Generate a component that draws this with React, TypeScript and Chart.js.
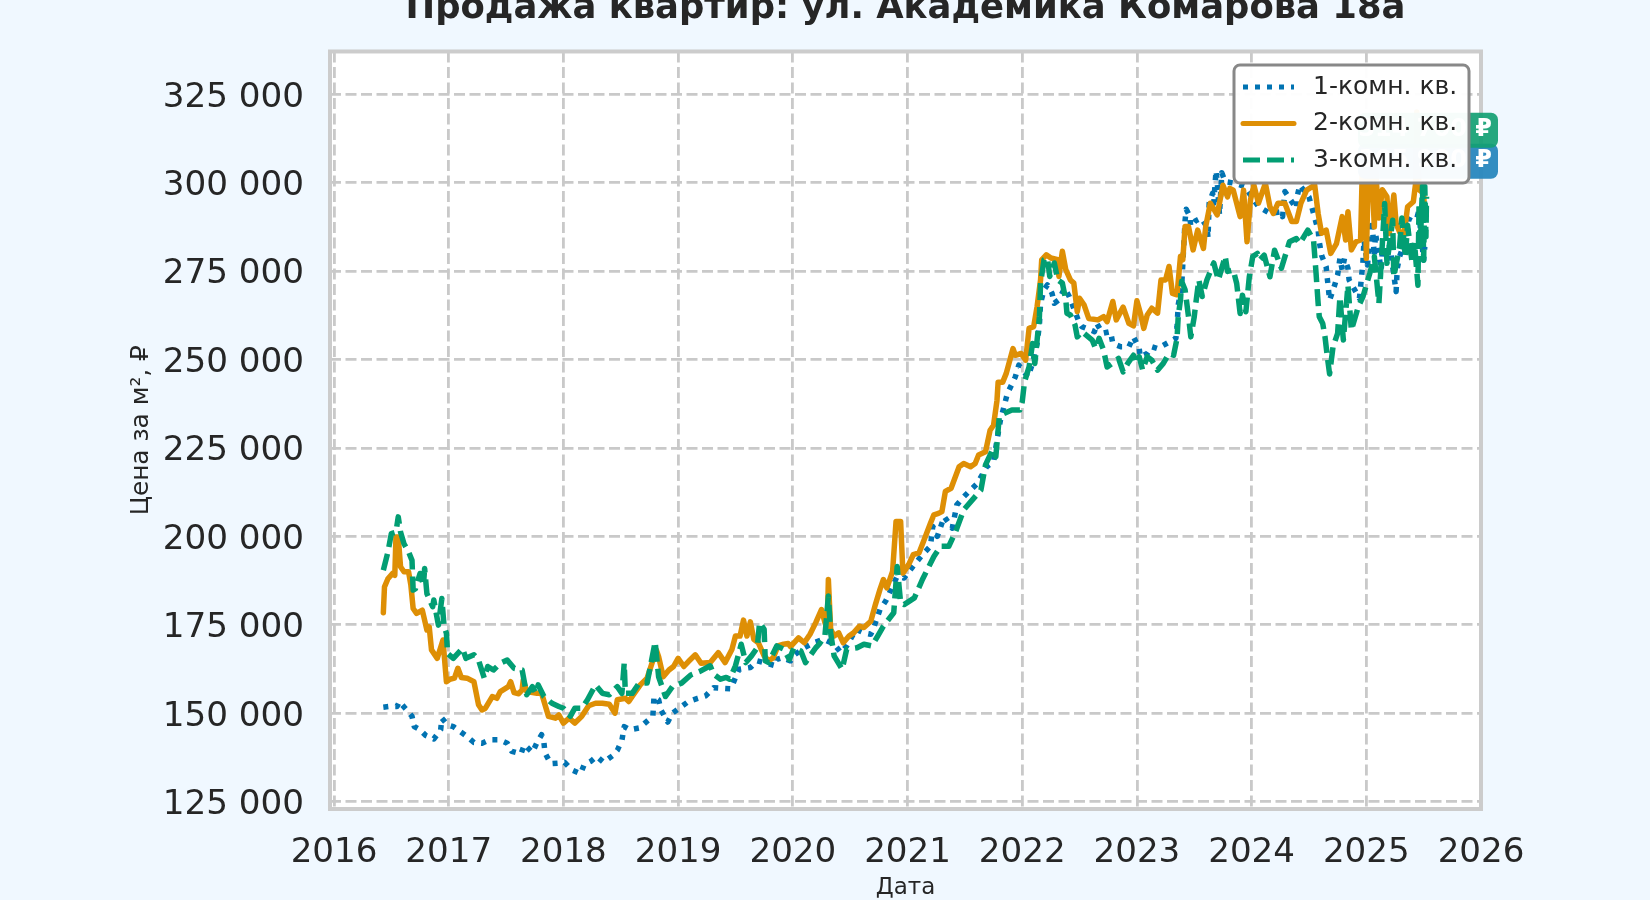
import React, { useEffect, useRef } from "react";
import { Chart, registerables } from "chart.js";

Chart.register(...registerables);

const FONT = "'DejaVu Sans', sans-serif";
const TEXT = "#262626";

const yearTicks = [2016, 2017, 2018, 2019, 2020, 2021, 2022, 2023, 2024, 2025, 2026];
const priceTicks = [125000, 150000, 175000, 200000, 225000, 250000, 275000, 300000, 325000];

// 1-room
const oneRoomYears = [
  2016.43, 2016.48, 2016.55, 2016.57, 2016.62, 2016.68, 2016.7, 2016.75, 2016.8, 2016.87, 2016.93, 2016.94, 2016.99,
  2017.04, 2017.1, 2017.16, 2017.22, 2017.29, 2017.36, 2017.44, 2017.51, 2017.55, 2017.63, 2017.66, 2017.73, 2017.77,
  2017.81, 2017.83, 2017.84, 2017.89, 2017.97, 2018.01, 2018.07, 2018.15, 2018.18, 2018.24, 2018.29, 2018.35, 2018.43,
  2018.47, 2018.51, 2018.53, 2018.58, 2018.66, 2018.71, 2018.78, 2018.79, 2018.83, 2018.85, 2018.89, 2018.91, 2018.95,
  2019.01, 2019.09, 2019.17, 2019.24, 2019.31, 2019.46, 2019.53, 2019.63, 2019.69, 2019.85, 2019.86, 2019.91, 2019.98,
  2020.02, 2020.1, 2020.18, 2020.27, 2020.36, 2020.42, 2020.47, 2020.55, 2020.62, 2020.68, 2020.71, 2020.76, 2020.81,
  2020.85, 2020.91, 2020.97, 2021.06, 2021.13, 2021.2, 2021.22, 2021.26, 2021.32, 2021.39, 2021.43, 2021.49, 2021.61,
  2021.69, 2021.75, 2021.78, 2021.81, 2021.87, 2021.94, 2021.97, 2022.05, 2022.09, 2022.13, 2022.15, 2022.16, 2022.19,
  2022.22, 2022.26, 2022.28, 2022.32, 2022.37, 2022.41, 2022.5, 2022.52, 2022.63, 2022.65, 2022.7, 2022.77, 2022.79,
  2022.86, 2022.93, 2022.97, 2023.02, 2023.03, 2023.09, 2023.13, 2023.18, 2023.34, 2023.35, 2023.36, 2023.39, 2023.42,
  2023.43, 2023.46, 2023.47, 2023.51, 2023.56, 2023.61, 2023.62, 2023.63, 2023.66, 2023.67, 2023.69, 2023.7, 2023.72,
  2023.74, 2023.77, 2023.86, 2023.94, 2024.06, 2024.16, 2024.26, 2024.27, 2024.29, 2024.39, 2024.4, 2024.42, 2024.5,
  2024.58, 2024.59, 2024.61, 2024.65, 2024.66, 2024.68, 2024.72, 2024.75, 2024.77, 2024.79, 2024.81, 2024.84, 2024.85,
  2024.94, 2024.95, 2024.97, 2024.98, 2025.01, 2025.05, 2025.07, 2025.08, 2025.13, 2025.14, 2025.21, 2025.23, 2025.26,
  2025.27, 2025.29, 2025.36, 2025.37, 2025.4, 2025.46, 2025.5, 2025.51,
];
const oneRoomValues = [
  151700, 151900, 151900, 153300, 151400, 149100, 146200, 145300, 143700, 142700, 145300, 148600, 146700,
  146200, 144800, 143400, 141700, 141500, 142500, 142500, 141500, 139200, 138500, 141100, 138900, 141700,
  143900, 141700, 138700, 135700, 135900, 136100, 134000, 132900, 135400, 136400, 137800, 136100, 138000,
  139500, 142300, 146200, 145300, 145800, 147200, 149100, 154700, 153800, 150900, 148600, 147500, 150000,
  151400, 153300, 154200, 154900, 157200, 156900, 162400, 162900, 164800, 163400, 165200, 165700, 164800,
  166600, 168500, 169900, 170900, 169500, 167100, 169000, 173700, 172700, 172300, 174600, 179300, 181700,
  184500, 188700, 188200, 192000, 194800, 197200, 202800, 200000, 205600, 202300, 208900, 211200, 215000,
  219700, 221100, 227200, 232800, 240300, 245100, 248400, 245100, 248900, 254500, 259800, 265900, 269700,
  271100, 268700, 265900, 266900, 270200, 267800, 260200, 259300, 257900, 260200, 257400, 257900, 254500,
  253600, 253600, 256400, 253100, 250800, 251700, 253600, 253100, 256000, 259300, 265400, 270600, 289300,
  292500, 290600, 287600, 289200, 290000, 287600, 284400, 294200, 297000, 294200, 303400, 300300, 290900,
  302800, 300300, 299800, 298900, 293200, 291300, 291800, 290400, 297500, 292700, 296500, 299300, 296000,
  286600, 283300, 279500, 276200, 272900, 266800, 270600, 273900, 278600, 275300, 278600, 275800, 272500,
  267300, 270600, 277200, 283800, 276700, 289400, 279100, 285700, 275300, 280900, 281900, 276200, 269200,
  275800, 279100, 285700, 289400, 291300, 290800, 278100, 281900,
];

// 2-room
const twoRoomYears = [
  2016.43, 2016.44, 2016.47, 2016.51, 2016.53, 2016.54, 2016.56, 2016.58, 2016.61, 2016.65, 2016.67, 2016.69, 2016.72,
  2016.77, 2016.81, 2016.83, 2016.85, 2016.9, 2016.95, 2016.98, 2017.01, 2017.05, 2017.08, 2017.11, 2017.16, 2017.22,
  2017.26, 2017.29, 2017.32, 2017.38, 2017.42, 2017.45, 2017.52, 2017.54, 2017.57, 2017.61, 2017.64, 2017.65, 2017.68,
  2017.77, 2017.81, 2017.87, 2017.93, 2017.96, 2018.0, 2018.05, 2018.1, 2018.16, 2018.22, 2018.28, 2018.34, 2018.4,
  2018.45, 2018.47, 2018.54, 2018.57, 2018.61, 2018.67, 2018.73, 2018.81, 2018.83, 2018.87, 2018.92, 2018.96, 2019.0,
  2019.05, 2019.09, 2019.15, 2019.2, 2019.28, 2019.35, 2019.41, 2019.47, 2019.5, 2019.54, 2019.57, 2019.6, 2019.63,
  2019.66, 2019.7, 2019.75, 2019.79, 2019.83, 2019.87, 2019.92, 2019.96, 2019.98, 2020.05, 2020.1, 2020.15, 2020.2,
  2020.25, 2020.28, 2020.3, 2020.31, 2020.33, 2020.36, 2020.4, 2020.44, 2020.49, 2020.53, 2020.58, 2020.62, 2020.68,
  2020.72, 2020.76, 2020.79, 2020.82, 2020.87, 2020.9, 2020.94, 2020.96, 2021.01, 2021.05, 2021.1, 2021.14, 2021.2,
  2021.23, 2021.27, 2021.3, 2021.33, 2021.38, 2021.45, 2021.49, 2021.55, 2021.59, 2021.62, 2021.68, 2021.72, 2021.75,
  2021.78, 2021.79, 2021.83, 2021.86, 2021.92, 2021.94, 2021.99, 2022.03, 2022.06, 2022.1, 2022.13, 2022.16, 2022.17,
  2022.21, 2022.25, 2022.31, 2022.32, 2022.35, 2022.38, 2022.42, 2022.45, 2022.48, 2022.5, 2022.54, 2022.58, 2022.66,
  2022.71, 2022.74, 2022.79, 2022.82, 2022.88, 2022.93, 2022.97, 2023.0, 2023.03, 2023.06, 2023.09, 2023.13, 2023.18,
  2023.21, 2023.25, 2023.28, 2023.31, 2023.35, 2023.38, 2023.4, 2023.42, 2023.45, 2023.49, 2023.53, 2023.58, 2023.6,
  2023.64, 2023.7, 2023.75, 2023.79, 2023.81, 2023.84, 2023.9, 2023.93, 2023.96, 2023.99, 2024.02, 2024.06, 2024.12,
  2024.16, 2024.19, 2024.23, 2024.29, 2024.35, 2024.39, 2024.43, 2024.48, 2024.55, 2024.58, 2024.61, 2024.65, 2024.69,
  2024.74, 2024.79, 2024.82, 2024.84, 2024.87, 2024.91, 2024.95, 2024.97, 2024.99, 2025.0, 2025.02, 2025.05, 2025.07,
  2025.08, 2025.11, 2025.14, 2025.18, 2025.2, 2025.24, 2025.26, 2025.29, 2025.33, 2025.36, 2025.41, 2025.43, 2025.44,
  2025.46, 2025.5, 2025.51,
];
const twoRoomValues = [
  178400, 185700, 188000, 189500, 189000, 199800, 199800, 191400, 190000, 190000, 186200, 179600, 178200,
  179100, 173500, 174400, 167900, 165500, 170700, 158900, 159600, 159900, 162700, 160100, 159900, 158900,
  152400, 150900, 151400, 154700, 154200, 156100, 157500, 158900, 155800, 155500, 156600, 159400, 156100,
  155600, 155600, 149100, 148600, 149500, 147200, 148600, 147200, 149100, 152100, 152800, 152800, 152500,
  150000, 153800, 154200, 153300, 155200, 158000, 159900, 167900, 166000, 160300, 162200, 163200, 165500,
  163200, 164600, 166500, 164100, 164300, 167100, 164300, 168100, 171800, 171800, 176300, 171800, 175800,
  170900, 169900, 166200, 164800, 165700, 169000, 169500, 169700, 168800, 171300, 169900, 172300, 175600,
  179300, 175600, 173700, 187800, 173700, 171800, 172700, 169900, 171800, 172700, 174600, 174200, 176000,
  180700, 185000, 187800, 185400, 190100, 204200, 204200, 189600, 192000, 194800, 195300, 198600, 203700,
  206100, 206500, 207000, 212700, 213600, 219700, 220600, 219700, 220600, 223000, 223900, 230000, 231400,
  238400, 243600, 243600, 246000, 253100, 251200, 251700, 249800, 258800, 259300, 265000, 272500, 278200,
  279600, 278700, 278200, 273500, 280600, 275400, 272500, 271600, 263500, 267300, 265400, 261600, 261200,
  262100, 260700, 266400, 261200, 264800, 260200, 259500, 266600, 263100, 258800, 262600, 264500, 263100,
  272500, 272500, 276300, 268700, 268300, 279200, 278200, 287600, 287600, 281000, 286600, 281400, 287600,
  294200, 290900, 299300, 296000, 298400, 297900, 290400, 297900, 283300, 295100, 299300, 294200, 299800,
  293200, 291300, 294200, 294200, 289000, 289000, 294200, 297900, 299300, 291300, 285700, 286600, 280000,
  282800, 290400, 283800, 291800, 281000, 283300, 283800, 310000, 308000, 278600, 305000, 302000, 287500,
  304000, 290000, 298000, 296000, 285600, 296500, 288500, 286100, 285600, 293200, 294600, 299800, 320000,
  298000, 297000, 290000,
];

// 3-room
const threeRoomYears = [
  2016.43, 2016.47, 2016.5, 2016.54, 2016.56, 2016.58, 2016.61, 2016.65, 2016.68, 2016.69, 2016.71, 2016.75, 2016.78,
  2016.79, 2016.81, 2016.86, 2016.87, 2016.91, 2016.94, 2016.96, 2016.98, 2016.99, 2017.04, 2017.12, 2017.15, 2017.22,
  2017.26, 2017.31, 2017.34, 2017.39, 2017.45, 2017.51, 2017.57, 2017.64, 2017.68, 2017.73, 2017.76, 2017.78, 2017.83,
  2017.9, 2017.96, 2018.0, 2018.06, 2018.1, 2018.16, 2018.21, 2018.28, 2018.34, 2018.4, 2018.47, 2018.51, 2018.53,
  2018.54, 2018.6, 2018.66, 2018.73, 2018.8, 2018.83, 2018.89, 2018.95, 2019.03, 2019.11, 2019.19, 2019.28, 2019.31,
  2019.37, 2019.42, 2019.45, 2019.5, 2019.55, 2019.59, 2019.64, 2019.69, 2019.71, 2019.75, 2019.76, 2019.79, 2019.86,
  2019.92, 2019.97, 2020.01, 2020.07, 2020.11, 2020.2, 2020.23, 2020.28, 2020.31, 2020.33, 2020.36, 2020.43, 2020.47,
  2020.56, 2020.62, 2020.69, 2020.74, 2020.79, 2020.88, 2020.91, 2020.94, 2020.97, 2021.06, 2021.13, 2021.23, 2021.29,
  2021.36, 2021.42, 2021.49, 2021.64, 2021.68, 2021.74, 2021.77, 2021.8, 2021.84, 2021.91, 2021.98, 2022.0, 2022.02,
  2022.06, 2022.09, 2022.11, 2022.15, 2022.16, 2022.19, 2022.22, 2022.24, 2022.28, 2022.31, 2022.35, 2022.38, 2022.39,
  2022.42, 2022.46, 2022.48, 2022.52, 2022.61, 2022.64, 2022.67, 2022.71, 2022.74, 2022.8, 2022.84, 2022.88, 2022.92,
  2022.97, 2022.99, 2023.02, 2023.05, 2023.09, 2023.13, 2023.18, 2023.23, 2023.28, 2023.32, 2023.35, 2023.36, 2023.38,
  2023.39, 2023.42, 2023.45, 2023.47, 2023.5, 2023.51, 2023.54, 2023.57, 2023.61, 2023.67, 2023.71, 2023.77, 2023.79,
  2023.84, 2023.87, 2023.9, 2023.92, 2023.95, 2023.98, 2024.01, 2024.05, 2024.07, 2024.11, 2024.16, 2024.2, 2024.26,
  2024.33, 2024.39, 2024.42, 2024.49, 2024.54, 2024.56, 2024.58, 2024.59, 2024.62, 2024.64, 2024.66, 2024.68, 2024.71,
  2024.75, 2024.77, 2024.8, 2024.84, 2024.87, 2024.93, 2024.97, 2025.03, 2025.07, 2025.11, 2025.16, 2025.18, 2025.23,
  2025.24, 2025.29, 2025.31, 2025.34, 2025.36, 2025.4, 2025.42, 2025.45, 2025.46, 2025.47, 2025.49, 2025.5, 2025.51,
  2025.52, 2025.525,
];
const threeRoomValues = [
  190400, 195600, 200800, 201200, 205500, 201200, 197900, 195600, 193200, 184800, 185200, 189500, 186200,
  190900, 183800, 180100, 182000, 174900, 182400, 174400, 172600, 166900, 165500, 168300, 165500, 166500,
  165000, 159900, 163200, 162200, 164100, 165000, 162700, 162200, 155200, 157500, 155600, 158000, 154700,
  152800, 151900, 151400, 149100, 151400, 151400, 153800, 158000, 155600, 155200, 157500, 155600, 164100,
  155600, 155600, 158500, 158500, 170200, 160300, 154700, 157500, 158500, 160800, 161800, 163400, 161000,
  159600, 160100, 159600, 163400, 169500, 164300, 166200, 168500, 175600, 173700, 164800, 164300, 169000,
  168100, 165200, 168500, 167600, 164300, 168500, 169500, 171800, 183100, 172700, 166200, 162400, 168100,
  168500, 169500, 169000, 171800, 174600, 178400, 191500, 181200, 180700, 182600, 187800, 194300, 197200,
  197200, 201400, 207500, 213100, 220200, 224400, 222500, 233800, 234700, 235700, 235700, 238000, 243700,
  247900, 254500, 248900, 262100, 271600, 278200, 278700, 273500, 277300, 272500, 271600, 266900, 263100,
  262600, 259800, 256400, 257900, 255500, 253100, 256000, 252600, 247900, 249300, 250300, 246500, 248900,
  251200, 248900, 250800, 247000, 250800, 249800, 247000, 248900, 251700, 251200, 256000, 262100, 266900,
  272100, 269700, 262100, 256400, 262100, 265000, 272500, 267800, 272500, 277300, 272500, 279200, 274900,
  275300, 271500, 263000, 268200, 263500, 273400, 279100, 280000, 278100, 279500, 273400, 280900, 275800,
  283300, 284200, 282800, 286600, 283800, 275300, 265900, 262100, 260200, 256400, 250800, 245900, 253600,
  257400, 267700, 255500, 271000, 258300, 264900, 267700, 274300, 279100, 265900, 294100, 277200, 289400,
  273400, 281900, 290000, 279000, 288000, 277200, 283000, 271000, 294100, 282000, 299000, 278100, 298900,
  284700, 296000,
];

const seriesLabels = ["1-комн. кв.", "2-комн. кв.", "3-комн. кв."];
const seriesColors = ["#0173b2", "#de8f05", "#029e73"];
const seriesDashes = [[5, 7], [], [17, 7]];

// last-price tags right of the plot (mostly hidden behind the legend)
const tagValues = [305900, 314700];
const tagLabels = ["305 900 ₽", "314 700 ₽"];
const tagColors = ["rgba(40,135,190,0.95)", "rgba(20,160,115,0.92)"];

const points = (years: number[], values: number[]) => years.map((x, i) => ({ x, y: values[i] }));

const plotStyle = {
  id: "plotStyle",
  beforeDraw(chart: Chart) {
    const { ctx, chartArea: a } = chart;
    ctx.save();
    ctx.fillStyle = "#ffffff";
    ctx.fillRect(a.left, a.top, a.width, a.height);
    ctx.restore();
  },
  afterDatasetsDraw(chart: Chart) {
    const { ctx, chartArea: a, scales } = chart;
    ctx.save();
    // frame
    ctx.strokeStyle = "#cccccc";
    ctx.lineWidth = 4;
    ctx.strokeRect(a.left, a.top, a.width, a.height);

    // price tags
    ctx.textBaseline = "middle";
    tagValues.forEach((v, i) => {
      const y = scales.y.getPixelForValue(v);
      ctx.fillStyle = tagColors[i];
      ctx.beginPath();
      ctx.roundRect(1358, y - 18, 140, 35, 7);
      ctx.fill();
      ctx.fillStyle = "#ffffff";
      ctx.font = `bold 24px ${FONT}`;
      ctx.textAlign = "right";
      ctx.fillText(tagLabels[i], 1492, y - 1);
    });

    // legend
    ctx.fillStyle = "rgba(255,255,255,0.96)";
    ctx.strokeStyle = "#888888";
    ctx.lineWidth = 3;
    ctx.beginPath();
    ctx.roundRect(1234, 89, 235, 118, 6);
    ctx.fill();
    ctx.stroke();
    ctx.font = `25px ${FONT}`;
    ctx.textAlign = "left";
    seriesLabels.forEach((label, i) => {
      const y = 111 + i * 36.5;
      ctx.strokeStyle = seriesColors[i];
      ctx.lineWidth = 5;
      ctx.setLineDash(seriesDashes[i]);
      ctx.lineCap = i === 1 ? "round" : "butt";
      ctx.beginPath();
      ctx.moveTo(1243, y);
      ctx.lineTo(1294, y);
      ctx.stroke();
      ctx.setLineDash([]);
      ctx.fillStyle = TEXT;
      ctx.fillText(label, 1313, y);
    });
    ctx.restore();
  },
};

const App: React.FC = () => {
  const canvasRef = useRef<HTMLCanvasElement | null>(null);

  useEffect(() => {
    if (!canvasRef.current) return;

    const chart = new Chart(canvasRef.current, {
      type: "line",
      data: {
        datasets: [
          { label: seriesLabels[0], data: points(oneRoomYears, oneRoomValues), order: 3 },
          { label: seriesLabels[1], data: points(twoRoomYears, twoRoomValues), order: 2 },
          { label: seriesLabels[2], data: points(threeRoomYears, threeRoomValues), order: 1 },
        ].map((d, i) => ({
          ...d,
          borderColor: seriesColors[i],
          borderWidth: 5.5,
          borderDash: seriesDashes[i],
          borderCapStyle: i === 1 ? "round" : "butt",
          borderJoinStyle: "round",
          pointRadius: 0,
          tension: 0,
          fill: false,
        })) as any,
      },
      options: {
        responsive: false,
        animation: false,
        layout: { padding: { left: 0, right: 169, top: 0, bottom: 0 } },
        plugins: {
          legend: { display: false },
          tooltip: { enabled: false },
          title: {
            display: true,
            fullSize: false,
            text: "Продажа квартир: ул. Академика Комарова 18а",
            color: TEXT,
            font: { family: FONT, size: 35.4, weight: "bold" },
            padding: { top: 11.8, bottom: 21.2 },
          },
        },
        scales: {
          x: {
            type: "linear",
            min: 2015.965,
            max: 2026,
            afterBuildTicks: (scale) => {
              scale.ticks = yearTicks.map((value) => ({ value }));
            },
            afterFit: (scale) => {
              scale.height = 93;
            },
            grid: { color: "#c9c9c9", lineWidth: 2.8, drawTicks: false },
            border: { display: false, dash: [11, 4.5] },
            ticks: {
              color: TEXT,
              font: { family: FONT, size: 34.1 },
              padding: 23.5,
              maxRotation: 0,
              autoSkip: false,
              callback: (v) => String(v),
            },
            title: {
              display: true,
              text: "Дата",
              color: TEXT,
              font: { family: FONT, size: 23 },
              padding: 0,
            },
          },
          y: {
            min: 122900,
            max: 337100,
            afterBuildTicks: (scale) => {
              scale.ticks = priceTicks.map((value) => ({ value }));
            },
            afterFit: (scale) => {
              scale.width = 330;
            },
            grid: { color: "#c9c9c9", lineWidth: 2.8, drawTicks: false },
            border: { display: false, dash: [11, 4.5] },
            ticks: {
              color: TEXT,
              font: { family: FONT, size: 34.2 },
              padding: 26,
              labelOffset: 3.5,
              autoSkip: false,
              callback: (v) => String(v).replace(/\B(?=(\d{3})+$)/g, " "),
            },
            title: {
              display: true,
              text: "Цена за м², ₽",
              color: TEXT,
              font: { family: FONT, size: 24.8 },
              padding: { top: 127, bottom: 0 },
            },
          },
        },
      },
      plugins: [plotStyle],
    });

    return () => {
      chart.destroy();
    };
  }, []);

  return (
    <div style={{ position: "fixed", inset: 0, background: "#f0f8ff", overflow: "hidden" }}>
      <canvas
        ref={canvasRef}
        width={1650}
        height={926}
        style={{ position: "absolute", left: 0, top: -24, width: 1650, height: 926 }}
      />
    </div>
  );
};

export default App;
